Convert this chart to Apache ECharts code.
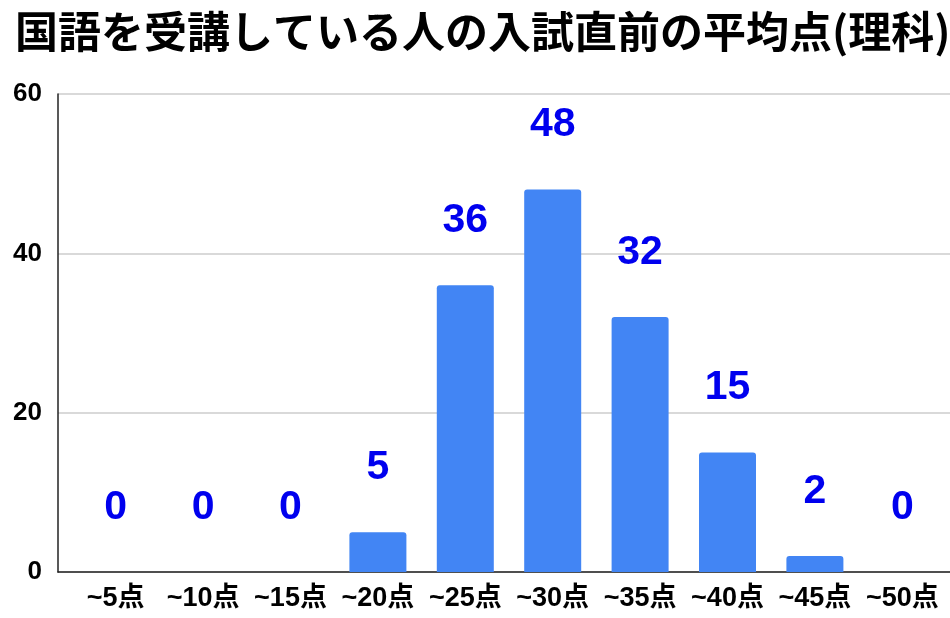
<!DOCTYPE html>
<html>
    <head>
        <meta charset=utf-8>
        <style>html,body{margin:0;padding:0;background:#fff}</style>
    </head>
    <body>
        <div id="chart" style="width:950px;height:618px"></div>
        <script src="https://cdn.jsdelivr.net/npm/echarts@6/dist/echarts.min.js"></script>
        <script type="text/javascript">

            var myChart = echarts.init(document.querySelector('#chart'));

            let title = '国語を受講している人の入試直前の平均点(理科)'
            let xarr = ['~5点', '~10点', '~15点', '~20点', '~25点', '~30点', '~35点', '~40点', '~45点', '~50点']
            let yarr = [0, 0, 0, 5, 36, 48, 32, 15, 2, 0]
            let yTicks = [0, 20, 40, 60]

            let font = 'Liberation Sans, Arial, "Noto Sans CJK JP", sans-serif'
            let yMax = yTicks[yTicks.length - 1]
            let yStep = yTicks[1] - yTicks[0]

            let option = {
            animation: false,
            title: {
                text: title,
                left: 10,
                top: 5,
                textStyle: {
                    fontFamily: '"Noto Sans CJK JP", sans-serif',
                    fontSize: 43,
                    fontWeight: 'bold',
                    color: '#000'
                }
            },
            grid: [
                // bars: the first category starts a bit right of the y axis line
                {left: 72, right: 4, top: 94, bottom: 46},
                // frame: axis lines, grid lines, y labels
                {left: 58, right: 0, top: 94, bottom: 46}
            ],
            xAxis: [{
                gridIndex: 0,
                type: 'category',
                data: xarr,
                axisLine: {show: false},
                axisTick: {show: false},
                axisLabel: {
                    interval: 0,
                    margin: 13,
                    color: '#000',
                    fontFamily: font,
                    fontSize: 27,
                    fontWeight: 'bold'
                }
            }, {
                gridIndex: 1,
                type: 'value',
                min: 0,
                max: 1,
                axisLine: {show: true, lineStyle: {color: '#222', width: 1.5}},
                axisTick: {show: false},
                axisLabel: {show: false},
                splitLine: {show: false}
            }],
            yAxis: [{
                gridIndex: 0,
                type: 'value',
                min: 0,
                max: yMax,
                interval: yStep,
                show: false
            }, {
                gridIndex: 1,
                type: 'value',
                min: 0,
                max: yMax,
                interval: yStep,
                axisLine: {show: true, lineStyle: {color: '#222', width: 1.5}},
                axisTick: {show: false},
                axisLabel: {
                    margin: 16,
                    color: '#000',
                    fontFamily: font,
                    fontSize: 26,
                    fontWeight: 'bold'
                },
                splitLine: {lineStyle: {color: '#cccccc', width: 1.5}}
            }],
            series: [{
                type: 'bar',
                xAxisIndex: 0,
                yAxisIndex: 0,
                data: yarr,
                barWidth: 57,
                itemStyle: {color: '#4285F4', borderRadius: [3, 3, 0, 0]},
                label: {
                    show: true,
                    position: 'top',
                    distance: 44,
                    color: '#0000ee',
                    fontFamily: font,
                    fontSize: 41,
                    fontWeight: 'bold'
                }
            }]
            }
            myChart.setOption(option);
        </script>
    </body>
</html>
